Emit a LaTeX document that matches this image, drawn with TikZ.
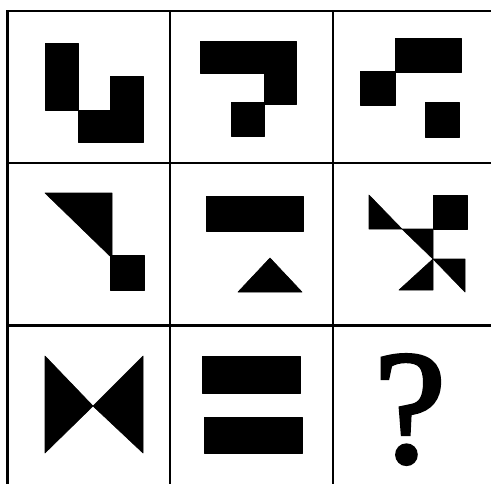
\documentclass[tikz,border=0pt]{standalone}
\usepackage{fontspec}
\setmainfont{Liberation Serif}
\newfontfamily\qfont[FakeBold=2.2]{Liberation Serif}
\begin{document}
\begin{tikzpicture}[x=1pt,y=-1pt,
  gridline/.style={line width=2.2pt,black},
  blk/.style={fill=black,draw=black,line width=0.6pt,line join=round}]
\useasboundingbox (0,0) rectangle (491,483);
\begin{scope}
\clip (0,0) rectangle (491,483);
% grid
\draw[gridline] (7.5,11) rectangle (496,489);
\draw[gridline] (170,11) -- (170,489);
\draw[gridline] (333,11) -- (333,489);
\draw[gridline] (7.5,163) -- (496,163);
\draw[gridline] (7.5,325.5) -- (496,325.5);
\end{scope}
% cell 1,1
\fill[blk] (45,43) rectangle (78,110);
\fill[blk] (78,110) -- (110,110) -- (110,76) -- (143,76) -- (143,142) -- (78,142) -- cycle;
% cell 1,2
\fill[blk] (200,41) -- (296,41) -- (296,104) -- (264,104) -- (264,73) -- (200,73) -- cycle;
\fill[blk] (231,102) rectangle (264,136);
% cell 1,3
\fill[blk] (395,38) rectangle (461,72);
\fill[blk] (360,71) rectangle (395,105);
\fill[blk] (425,102) rectangle (459,137);
% cell 2,1
\fill[blk] (45,193) -- (112,193) -- (112,258) -- cycle;
\fill[blk] (110,255) rectangle (144,290);
% cell 2,2
\fill[blk] (206,196) rectangle (303,231);
\fill[blk] (270,258) -- (302,292) -- (238,292) -- cycle;
% cell 2,3
\fill[blk] (369,195) -- (369,229) -- (402,229) -- cycle;
\fill[blk] (433,195) rectangle (467,229);
\fill[blk] (402,229) -- (433,229) -- (433,259) -- cycle;
\fill[blk] (399,290) -- (433,290) -- (433,259) -- cycle;
\fill[blk] (433,259) -- (465,259) -- (465,292) -- cycle;
% cell 3,1
\fill[blk] (45,356) -- (93,406) -- (45,453) -- cycle;
\fill[blk] (143,356) -- (93,406) -- (143,453) -- cycle;
% cell 3,2
\fill[blk] (202,356) rectangle (300,393);
\fill[blk] (204,417) rectangle (302,453);
% cell 3,3
\node[anchor=base,inner sep=0pt,text depth=0pt,font=\fontsize{162}{162}\selectfont\qfont] (q) at (410,462) {?};
\end{tikzpicture}
\end{document}
